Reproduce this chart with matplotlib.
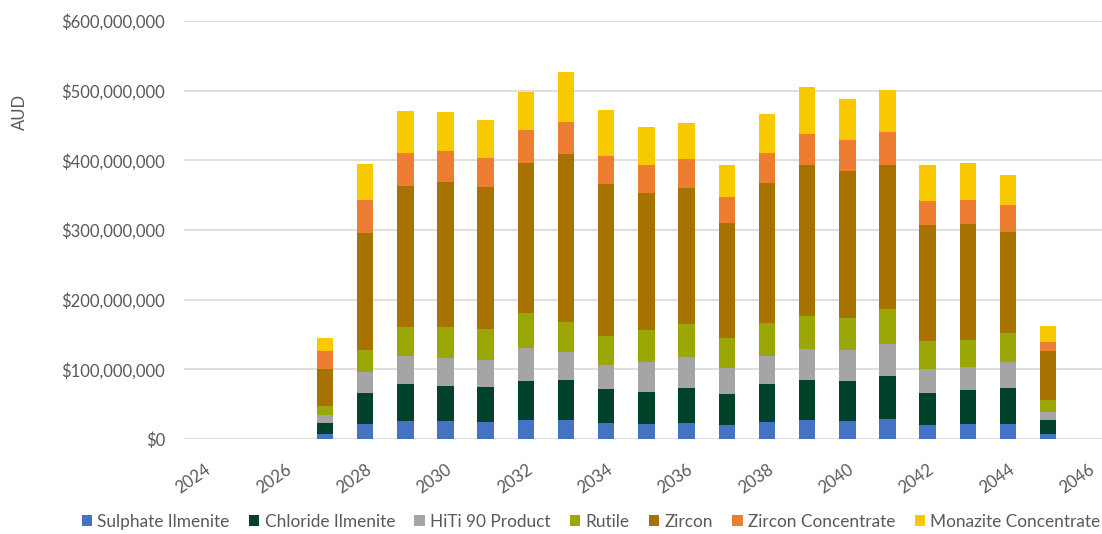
import numpy as np
import matplotlib.pyplot as plt

plt.rcParams['font.family'] = ['Lato', 'DejaVu Sans']

years = list(range(2024, 2047))

# revenue by product, millions of AUD (2024-2026 and 2046 have no production)
sulphate_ilmenite = [0, 0, 0, 6.7, 21.1, 25.4, 25.4, 23.9, 26.8, 26.8, 22.5, 21.1, 22.5,
                     19.6, 23.9, 26.8, 25.4, 28.2, 19.6, 21.1, 22.0, 7.7, 0]
chloride_ilmenite = [0, 0, 0, 15.8, 44.9, 54.0, 51.2, 50.7, 56.5, 58.4, 49.3, 46.8, 51.2,
                     45.5, 55.5, 58.4, 57.9, 62.2, 46.4, 48.8, 51.2, 19.1, 0]
hiti_90 = [0, 0, 0, 11.5, 30.2, 39.3, 40.1, 39.3, 46.8, 39.2, 34.9, 42.1, 43.5,
           37.3, 40.2, 43.5, 44.0, 45.5, 35.0, 33.4, 37.8, 12.4, 0]
rutile = [0, 0, 0, 13.4, 31.1, 42.1, 44.1, 44.0, 50.8, 43.5, 40.7, 46.5, 47.9,
          42.6, 46.9, 47.9, 46.9, 50.7, 39.2, 38.3, 40.7, 16.3, 0]
zircon = [0, 0, 0, 53.6, 168.9, 202.4, 208.1, 203.8, 215.8, 241.7, 218.6, 196.1, 195.2,
          165.5, 201.0, 217.2, 211.0, 207.2, 166.5, 166.5, 145.9, 70.3, 0]
zircon_conc = [0, 0, 0, 24.8, 46.4, 46.8, 44.0, 42.1, 46.4, 45.4, 39.7, 41.2, 42.1,
               36.4, 42.5, 43.5, 43.5, 46.4, 34.4, 34.5, 37.8, 13.0, 0]
monazite_conc = [0, 0, 0, 19.2, 52.6, 60.8, 56.5, 53.6, 55.5, 71.3, 66.5, 53.6, 50.7,
                 46.4, 56.5, 68.4, 59.3, 61.2, 52.2, 54.1, 44.0, 23.4, 0]

series = [
    ('Sulphate Ilmenite', sulphate_ilmenite, '#4472C4'),
    ('Chloride Ilmenite', chloride_ilmenite, '#00432A'),
    ('HiTi 90 Product', hiti_90, '#A5A5A5'),
    ('Rutile', rutile, '#9AA706'),
    ('Zircon', zircon, '#A87200'),
    ('Zircon Concentrate', zircon_conc, '#ED7D31'),
    ('Monazite Concentrate', monazite_conc, '#F8C800'),
]

text_color = '#595959'

# plot area runs a little past the right edge of the canvas
fig = plt.figure(figsize=(11.02, 5.34), dpi=100)
ax = fig.add_axes([184.4 / 1102, 95 / 534, 924 / 1102, 418 / 534])

x = np.arange(len(years))
bottom = np.zeros(len(years))
for name, vals, color in series:
    v = np.array(vals) * 1e6
    ax.bar(x, v, width=0.41, bottom=bottom, color=color, label=name, zorder=3)
    bottom += v

ax.set_ylim(0, 600e6)
ax.set_xlim(-0.5, 22.5)
ax.set_yticks(np.arange(0, 600e6 + 1, 100e6))
ax.set_yticklabels(['${:,.0f}'.format(t) for t in ax.get_yticks()])
ax.yaxis.grid(True, color='#D9D9D9', linewidth=1.2, zorder=0)
ax.set_axisbelow(True)

ax.set_xticks(x[::2])
ax.set_xticklabels([str(y) for y in years[::2]], rotation=35, ha='right', va='top',
                   rotation_mode='anchor')

for s in ax.spines.values():
    s.set_visible(False)
ax.tick_params(axis='both', length=0, labelsize=12, labelcolor=text_color)
ax.tick_params(axis='y', pad=14)
ax.tick_params(axis='x', pad=16)

fig.text(20 / 1102, 1 - 112 / 534, 'AUD', rotation=90, ha='center', va='center',
         fontsize=12, color=text_color)

leg = fig.legend(loc='center', bbox_to_anchor=(591 / 1102, 1 - 522 / 534), ncol=7,
                 frameon=False, fontsize=12.4, handlelength=0.6, handleheight=0.6,
                 handletextpad=0.3, columnspacing=1.13, borderaxespad=0)
for t in leg.get_texts():
    t.set_color(text_color)

fig.savefig('out.png', dpi=100)
